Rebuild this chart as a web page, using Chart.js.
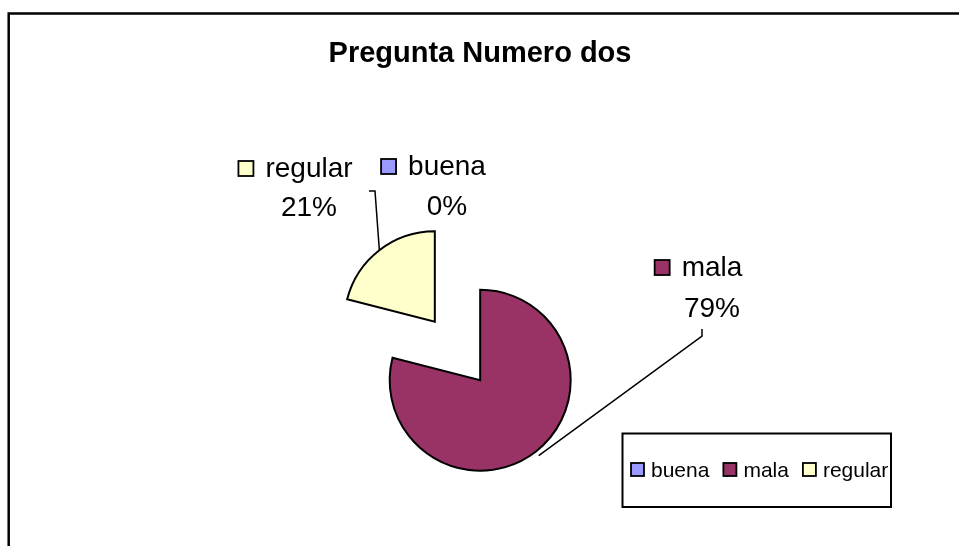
<!DOCTYPE html>
<html>
<head>
<meta charset="utf-8">
<script src="https://cdn.jsdelivr.net/npm/chart.js@4/dist/chart.umd.min.js"></script>
<style>
  html, body { margin: 0; padding: 0; background: #fff; }
  #wrap { position: relative; width: 959px; height: 546px; }
</style>
</head>
<body>
<div id="wrap"><canvas id="chart"></canvas></div>
<script>
'use strict';

const TITLE = 'Pregunta Numero dos';
const CATEGORIES = ['buena', 'mala', 'regular'];
const VALUES = [0, 79, 21];
const COLORS = ['#9999FF', '#993366', '#FFFFCC'];

const FONT = '"Liberation Sans", Arial, sans-serif';
const EXPLODE = 37;

// where each data label sits (Excel put them by hand)
const LABEL_LAYOUT = {
  buena:   { cx: 447, nameY: 175, pctY: 215 },
  mala:    { cx: 712, nameY: 276, pctY: 317, leader: [[702, 329], [702, 336]], reach: 5 },
  regular: { cx: 309, nameY: 177, pctY: 216, leader: [[369, 191], [375, 191]], reach: 0 }
};

function pct(v) {
  const total = VALUES.reduce((a, b) => a + b, 0);
  return Math.round(v / total * 100) + '%';
}

function keyBox(ctx, x, y, size, color) {
  ctx.fillStyle = color;
  ctx.fillRect(x, y, size, size);
  ctx.strokeStyle = '#000';
  ctx.lineWidth = 1.8;
  ctx.strokeRect(x, y, size, size);
}

const excelPie = {
  id: 'excelPie',
  beforeDraw(chart) {
    const ctx = chart.ctx;
    ctx.save();
    // chart frame (only top & left visible)
    ctx.strokeStyle = '#000';
    ctx.lineWidth = 2.5;
    ctx.beginPath();
    ctx.moveTo(8.7, chart.height + 5);
    ctx.lineTo(8.7, 13.6);
    ctx.lineTo(chart.width + 5, 13.6);
    ctx.stroke();
    ctx.fillStyle = '#000';
    ctx.font = 'bold 29px ' + FONT;
    ctx.textAlign = 'center';
    ctx.textBaseline = 'alphabetic';
    ctx.fillText(TITLE, 480, 62);
    ctx.restore();
  },
  beforeDatasetDraw(chart, args) {
    // exploded slices: push every arc out along its mid angle
    const ctx = chart.ctx;
    args.meta.data.forEach((arc) => {
      const mid = (arc.startAngle + arc.endAngle) / 2;
      ctx.save();
      ctx.translate(Math.cos(mid) * EXPLODE, Math.sin(mid) * EXPLODE);
      arc.draw(ctx);
      ctx.restore();
    });
    return false;
  },
  afterDraw(chart) {
    const ctx = chart.ctx;
    const arcs = chart.getDatasetMeta(0).data;
    ctx.save();
    ctx.textBaseline = 'alphabetic';

    CATEGORIES.forEach((name, i) => {
      const L = LABEL_LAYOUT[name];
      const arc = arcs[i];
      ctx.font = '28px ' + FONT;
      const w = ctx.measureText(name).width;
      const left = L.cx - w / 2;
      keyBox(ctx, left - 12 - 15, L.nameY - 16, 15, COLORS[i]);
      ctx.fillStyle = '#000';
      ctx.textAlign = 'left';
      ctx.fillText(name, left, L.nameY);
      ctx.textAlign = 'center';
      ctx.fillText(pct(VALUES[i]), L.cx, L.pctY);

      if (L.leader) {
        const mid = (arc.startAngle + arc.endAngle) / 2;
        const r = arc.outerRadius + L.reach;
        const ex = arc.x + Math.cos(mid) * (EXPLODE + r);
        const ey = arc.y + Math.sin(mid) * (EXPLODE + r);
        ctx.strokeStyle = '#000';
        ctx.lineWidth = 1.5;
        ctx.beginPath();
        ctx.moveTo(L.leader[0][0], L.leader[0][1]);
        ctx.lineTo(L.leader[1][0], L.leader[1][1]);
        ctx.lineTo(ex, ey);
        ctx.stroke();
      }
    });

    // legend box
    ctx.strokeStyle = '#000';
    ctx.lineWidth = 2;
    ctx.strokeRect(622.5, 433.5, 268.5, 73.5);
    ctx.font = '21px ' + FONT;
    ctx.textAlign = 'left';
    let x = 631;
    CATEGORIES.forEach((name, i) => {
      keyBox(ctx, x, 463, 13, COLORS[i]);
      x += 13 + 7;
      ctx.fillStyle = '#000';
      ctx.fillText(name, x, 477);
      x += ctx.measureText(name).width + 14;
    });
    ctx.restore();
  }
};

new Chart(document.getElementById('chart'), {
  type: 'pie',
  data: {
    labels: CATEGORIES,
    datasets: [{
      data: VALUES,
      backgroundColor: COLORS,
      borderColor: '#000',
      borderWidth: 2,
      borderJoinStyle: 'miter'
    }]
  },
  options: {
    responsive: true,
    maintainAspectRatio: false,
    animation: false,
    layout: { padding: { top: 259.5, bottom: 103.5, left: 307.5, right: 351.5 } },
    plugins: {
      legend: { display: false },
      title: { display: false },
      tooltip: { enabled: false }
    }
  },
  plugins: [excelPie]
});
</script>
</body>
</html>
